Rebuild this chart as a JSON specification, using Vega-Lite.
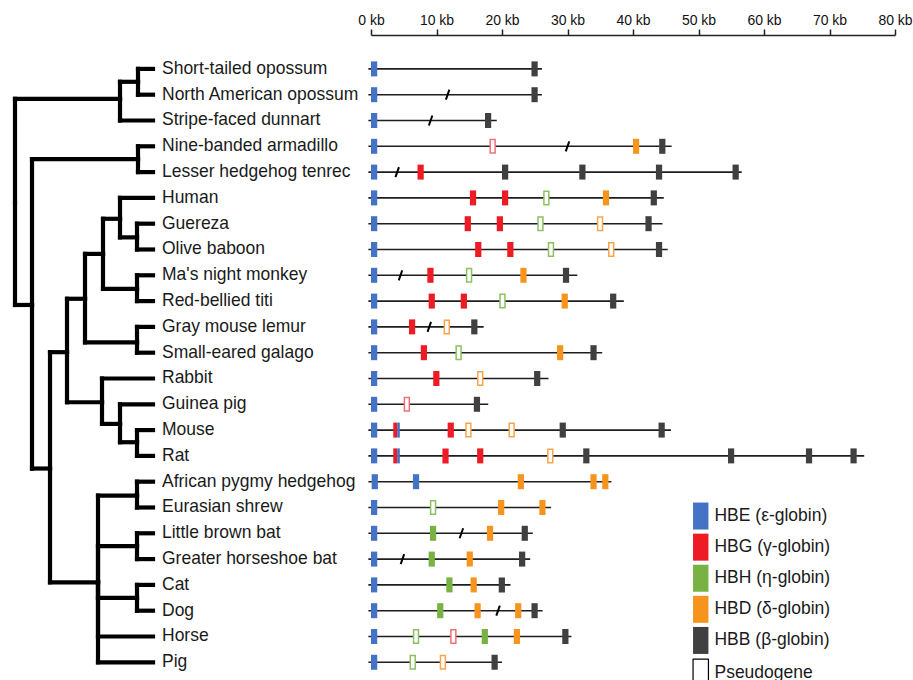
{
  "$schema": "https://vega.github.io/schema/vega-lite/v6.json",
  "autosize": {"type": "pad"},
  "padding": {"left": 0, "top": 14, "right": 0, "bottom": 0},
  "background": "white",
  "config": {"view": {"stroke": null}, "font": "Liberation Sans"},
  "spacing": 0,
  "bounds": "flush",
  "datasets": {
    "edges": [
      {"node": "Marsupialia", "depth": 120, "row": 1.16, "pdepth": 15, "prow": 5.2},
      {"node": "Didelphidae", "depth": 138, "row": 0.5, "pdepth": 120, "prow": 1.16},
      {"node": "Short-tailed opossum", "depth": 153, "row": 0, "pdepth": 138, "prow": 0.5},
      {"node": "North American opossum", "depth": 153, "row": 1, "pdepth": 138, "prow": 0.5},
      {"node": "Stripe-faced dunnart", "depth": 153, "row": 2, "pdepth": 120, "prow": 1.16},
      {"node": "Placentalia", "depth": 32, "row": 9.15, "pdepth": 15, "prow": 5.2},
      {"node": "Atlantogenata", "depth": 138, "row": 3.5, "pdepth": 32, "prow": 9.15},
      {"node": "Nine-banded armadillo", "depth": 153, "row": 3, "pdepth": 138, "prow": 3.5},
      {"node": "Lesser hedgehog tenrec", "depth": 153, "row": 4, "pdepth": 138, "prow": 3.5},
      {"node": "Boreoeutheria", "depth": 50, "row": 15.49, "pdepth": 32, "prow": 9.15},
      {"node": "Euarchontoglires", "depth": 67, "row": 10.98, "pdepth": 50, "prow": 15.49},
      {"node": "Primates", "depth": 85, "row": 8.91, "pdepth": 67, "prow": 10.98},
      {"node": "Anthropoidea", "depth": 103, "row": 7.17, "pdepth": 85, "prow": 8.91},
      {"node": "Catarrhini", "depth": 120, "row": 5.81, "pdepth": 103, "prow": 7.17},
      {"node": "Human", "depth": 153, "row": 5, "pdepth": 120, "prow": 5.81},
      {"node": "Cercopithecidae", "depth": 137, "row": 6.53, "pdepth": 120, "prow": 5.81},
      {"node": "Guereza", "depth": 153, "row": 6, "pdepth": 137, "prow": 6.53},
      {"node": "Olive baboon", "depth": 153, "row": 7, "pdepth": 137, "prow": 6.53},
      {"node": "Platyrrhini", "depth": 137, "row": 8.53, "pdepth": 103, "prow": 7.17},
      {"node": "Ma's night monkey", "depth": 153, "row": 8, "pdepth": 137, "prow": 8.53},
      {"node": "Red-bellied titi", "depth": 153, "row": 9, "pdepth": 137, "prow": 8.53},
      {"node": "Strepsirrhini", "depth": 137, "row": 10.6, "pdepth": 85, "prow": 8.91},
      {"node": "Gray mouse lemur", "depth": 153, "row": 10, "pdepth": 137, "prow": 10.6},
      {"node": "Small-eared galago", "depth": 153, "row": 11, "pdepth": 137, "prow": 10.6},
      {"node": "Glires", "depth": 102, "row": 12.92, "pdepth": 67, "prow": 10.98},
      {"node": "Rabbit", "depth": 153, "row": 12, "pdepth": 102, "prow": 12.92},
      {"node": "Rodentia", "depth": 120, "row": 13.76, "pdepth": 102, "prow": 12.92},
      {"node": "Guinea pig", "depth": 153, "row": 13, "pdepth": 120, "prow": 13.76},
      {"node": "Muridae", "depth": 137, "row": 14.47, "pdepth": 120, "prow": 13.76},
      {"node": "Mouse", "depth": 153, "row": 14, "pdepth": 137, "prow": 14.47},
      {"node": "Rat", "depth": 153, "row": 15, "pdepth": 137, "prow": 14.47},
      {"node": "Laurasiatheria", "depth": 98, "row": 19.9, "pdepth": 50, "prow": 15.49},
      {"node": "Eulipotyphla", "depth": 137, "row": 16.54, "pdepth": 98, "prow": 19.9},
      {"node": "African pygmy hedgehog", "depth": 153, "row": 16, "pdepth": 137, "prow": 16.54},
      {"node": "Eurasian shrew", "depth": 153, "row": 17, "pdepth": 137, "prow": 16.54},
      {"node": "Chiroptera", "depth": 137, "row": 18.5, "pdepth": 98, "prow": 19.9},
      {"node": "Little brown bat", "depth": 153, "row": 18, "pdepth": 137, "prow": 18.5},
      {"node": "Greater horseshoe bat", "depth": 153, "row": 19, "pdepth": 137, "prow": 18.5},
      {"node": "Carnivora", "depth": 137, "row": 20.5, "pdepth": 98, "prow": 19.9},
      {"node": "Cat", "depth": 153, "row": 20, "pdepth": 137, "prow": 20.5},
      {"node": "Dog", "depth": 153, "row": 21, "pdepth": 137, "prow": 20.5},
      {"node": "Horse", "depth": 153, "row": 22, "pdepth": 98, "prow": 19.9},
      {"node": "Pig", "depth": 153, "row": 23, "pdepth": 98, "prow": 19.9}
    ],
    "lines": [
      {"species": "Short-tailed opossum", "start": -0.4, "end": 26.1},
      {"species": "North American opossum", "start": -0.4, "end": 26.1},
      {"species": "Stripe-faced dunnart", "start": -0.4, "end": 19.2},
      {"species": "Nine-banded armadillo", "start": -0.4, "end": 45.9},
      {"species": "Lesser hedgehog tenrec", "start": -0.4, "end": 56.6},
      {"species": "Human", "start": -0.4, "end": 44.7},
      {"species": "Guereza", "start": -0.4, "end": 44.5},
      {"species": "Olive baboon", "start": -0.4, "end": 45.3},
      {"species": "Ma's night monkey", "start": -0.4, "end": 31.5},
      {"species": "Red-bellied titi", "start": -0.4, "end": 38.6},
      {"species": "Gray mouse lemur", "start": -0.4, "end": 17.2},
      {"species": "Small-eared galago", "start": -0.4, "end": 35.3},
      {"species": "Rabbit", "start": -0.4, "end": 27.1},
      {"species": "Guinea pig", "start": -0.4, "end": 17.9},
      {"species": "Mouse", "start": -0.4, "end": 45.8},
      {"species": "Rat", "start": -0.4, "end": 75.3},
      {"species": "African pygmy hedgehog", "start": -0.4, "end": 36.7},
      {"species": "Eurasian shrew", "start": -0.4, "end": 27.5},
      {"species": "Little brown bat", "start": -0.4, "end": 24.7},
      {"species": "Greater horseshoe bat", "start": -0.4, "end": 24.3},
      {"species": "Cat", "start": -0.4, "end": 21.3},
      {"species": "Dog", "start": -0.4, "end": 26.2},
      {"species": "Horse", "start": -0.4, "end": 30.6},
      {"species": "Pig", "start": -0.4, "end": 20.0}
    ],
    "gaps": [
      {"species": "North American opossum", "kb": 11.7},
      {"species": "Stripe-faced dunnart", "kb": 9.1},
      {"species": "Nine-banded armadillo", "kb": 30.0},
      {"species": "Lesser hedgehog tenrec", "kb": 4.0},
      {"species": "Ma's night monkey", "kb": 4.5},
      {"species": "Gray mouse lemur", "kb": 8.9},
      {"species": "Little brown bat", "kb": 13.8},
      {"species": "Greater horseshoe bat", "kb": 4.8},
      {"species": "Dog", "kb": 19.4}
    ],
    "genes": [
      {"species": "Short-tailed opossum", "gene": "HBE (ε-globin)", "start": 0, "end": 0.95, "pseudo": false},
      {"species": "Short-tailed opossum", "gene": "HBB (β-globin)", "start": 24.5, "end": 25.45, "pseudo": false},
      {"species": "North American opossum", "gene": "HBE (ε-globin)", "start": 0, "end": 0.95, "pseudo": false},
      {"species": "North American opossum", "gene": "HBB (β-globin)", "start": 24.5, "end": 25.45, "pseudo": false},
      {"species": "Stripe-faced dunnart", "gene": "HBE (ε-globin)", "start": 0, "end": 0.95, "pseudo": false},
      {"species": "Stripe-faced dunnart", "gene": "HBB (β-globin)", "start": 17.4, "end": 18.35, "pseudo": false},
      {"species": "Nine-banded armadillo", "gene": "HBE (ε-globin)", "start": 0, "end": 0.95, "pseudo": false},
      {"species": "Nine-banded armadillo", "gene": "HBG (γ-globin)", "start": 18.2, "end": 18.95, "pseudo": true},
      {"species": "Nine-banded armadillo", "gene": "HBD (δ-globin)", "start": 40.0, "end": 40.95, "pseudo": false},
      {"species": "Nine-banded armadillo", "gene": "HBB (β-globin)", "start": 44.0, "end": 44.95, "pseudo": false},
      {"species": "Lesser hedgehog tenrec", "gene": "HBE (ε-globin)", "start": 0, "end": 0.95, "pseudo": false},
      {"species": "Lesser hedgehog tenrec", "gene": "HBG (γ-globin)", "start": 7.1, "end": 8.05, "pseudo": false},
      {"species": "Lesser hedgehog tenrec", "gene": "HBB (β-globin)", "start": 20.0, "end": 20.95, "pseudo": false},
      {"species": "Lesser hedgehog tenrec", "gene": "HBB (β-globin)", "start": 31.8, "end": 32.75, "pseudo": false},
      {"species": "Lesser hedgehog tenrec", "gene": "HBB (β-globin)", "start": 43.5, "end": 44.45, "pseudo": false},
      {"species": "Lesser hedgehog tenrec", "gene": "HBB (β-globin)", "start": 55.2, "end": 56.15, "pseudo": false},
      {"species": "Human", "gene": "HBE (ε-globin)", "start": 0, "end": 0.95, "pseudo": false},
      {"species": "Human", "gene": "HBG (γ-globin)", "start": 15.1, "end": 16.05, "pseudo": false},
      {"species": "Human", "gene": "HBG (γ-globin)", "start": 20.0, "end": 20.95, "pseudo": false},
      {"species": "Human", "gene": "HBH (η-globin)", "start": 26.4, "end": 27.15, "pseudo": true},
      {"species": "Human", "gene": "HBD (δ-globin)", "start": 35.4, "end": 36.35, "pseudo": false},
      {"species": "Human", "gene": "HBB (β-globin)", "start": 42.7, "end": 43.65, "pseudo": false},
      {"species": "Guereza", "gene": "HBE (ε-globin)", "start": 0, "end": 0.95, "pseudo": false},
      {"species": "Guereza", "gene": "HBG (γ-globin)", "start": 14.3, "end": 15.25, "pseudo": false},
      {"species": "Guereza", "gene": "HBG (γ-globin)", "start": 19.2, "end": 20.15, "pseudo": false},
      {"species": "Guereza", "gene": "HBH (η-globin)", "start": 25.5, "end": 26.25, "pseudo": true},
      {"species": "Guereza", "gene": "HBD (δ-globin)", "start": 34.6, "end": 35.35, "pseudo": true},
      {"species": "Guereza", "gene": "HBB (β-globin)", "start": 41.9, "end": 42.85, "pseudo": false},
      {"species": "Olive baboon", "gene": "HBE (ε-globin)", "start": 0, "end": 0.95, "pseudo": false},
      {"species": "Olive baboon", "gene": "HBG (γ-globin)", "start": 15.9, "end": 16.85, "pseudo": false},
      {"species": "Olive baboon", "gene": "HBG (γ-globin)", "start": 20.8, "end": 21.75, "pseudo": false},
      {"species": "Olive baboon", "gene": "HBH (η-globin)", "start": 27.1, "end": 27.85, "pseudo": true},
      {"species": "Olive baboon", "gene": "HBD (δ-globin)", "start": 36.3, "end": 37.05, "pseudo": true},
      {"species": "Olive baboon", "gene": "HBB (β-globin)", "start": 43.5, "end": 44.45, "pseudo": false},
      {"species": "Ma's night monkey", "gene": "HBE (ε-globin)", "start": 0, "end": 0.95, "pseudo": false},
      {"species": "Ma's night monkey", "gene": "HBG (γ-globin)", "start": 8.6, "end": 9.55, "pseudo": false},
      {"species": "Ma's night monkey", "gene": "HBH (η-globin)", "start": 14.6, "end": 15.35, "pseudo": true},
      {"species": "Ma's night monkey", "gene": "HBD (δ-globin)", "start": 22.8, "end": 23.75, "pseudo": false},
      {"species": "Ma's night monkey", "gene": "HBB (β-globin)", "start": 29.3, "end": 30.25, "pseudo": false},
      {"species": "Red-bellied titi", "gene": "HBE (ε-globin)", "start": 0, "end": 0.95, "pseudo": false},
      {"species": "Red-bellied titi", "gene": "HBG (γ-globin)", "start": 8.8, "end": 9.75, "pseudo": false},
      {"species": "Red-bellied titi", "gene": "HBG (γ-globin)", "start": 13.7, "end": 14.65, "pseudo": false},
      {"species": "Red-bellied titi", "gene": "HBH (η-globin)", "start": 19.7, "end": 20.45, "pseudo": true},
      {"species": "Red-bellied titi", "gene": "HBD (δ-globin)", "start": 29.1, "end": 30.05, "pseudo": false},
      {"species": "Red-bellied titi", "gene": "HBB (β-globin)", "start": 36.5, "end": 37.45, "pseudo": false},
      {"species": "Gray mouse lemur", "gene": "HBE (ε-globin)", "start": 0, "end": 0.95, "pseudo": false},
      {"species": "Gray mouse lemur", "gene": "HBG (γ-globin)", "start": 5.8, "end": 6.75, "pseudo": false},
      {"species": "Gray mouse lemur", "gene": "HBD (δ-globin)", "start": 11.2, "end": 11.95, "pseudo": true},
      {"species": "Gray mouse lemur", "gene": "HBB (β-globin)", "start": 15.3, "end": 16.25, "pseudo": false},
      {"species": "Small-eared galago", "gene": "HBE (ε-globin)", "start": 0, "end": 0.95, "pseudo": false},
      {"species": "Small-eared galago", "gene": "HBG (γ-globin)", "start": 7.6, "end": 8.55, "pseudo": false},
      {"species": "Small-eared galago", "gene": "HBH (η-globin)", "start": 13.0, "end": 13.75, "pseudo": true},
      {"species": "Small-eared galago", "gene": "HBD (δ-globin)", "start": 28.4, "end": 29.35, "pseudo": false},
      {"species": "Small-eared galago", "gene": "HBB (β-globin)", "start": 33.5, "end": 34.45, "pseudo": false},
      {"species": "Rabbit", "gene": "HBE (ε-globin)", "start": 0, "end": 0.95, "pseudo": false},
      {"species": "Rabbit", "gene": "HBG (γ-globin)", "start": 9.5, "end": 10.45, "pseudo": false},
      {"species": "Rabbit", "gene": "HBD (δ-globin)", "start": 16.3, "end": 17.05, "pseudo": true},
      {"species": "Rabbit", "gene": "HBB (β-globin)", "start": 24.9, "end": 25.85, "pseudo": false},
      {"species": "Guinea pig", "gene": "HBE (ε-globin)", "start": 0, "end": 0.95, "pseudo": false},
      {"species": "Guinea pig", "gene": "HBG (γ-globin)", "start": 5.1, "end": 5.85, "pseudo": true},
      {"species": "Guinea pig", "gene": "HBB (β-globin)", "start": 15.7, "end": 16.65, "pseudo": false},
      {"species": "Mouse", "gene": "HBE (ε-globin)", "start": 0, "end": 0.95, "pseudo": false},
      {"species": "Mouse", "gene": "HBG (γ-globin)", "start": 3.4, "end": 4.0, "pseudo": false},
      {"species": "Mouse", "gene": "HBE (ε-globin)", "start": 4.0, "end": 4.4, "pseudo": false},
      {"species": "Mouse", "gene": "HBG (γ-globin)", "start": 11.7, "end": 12.65, "pseudo": false},
      {"species": "Mouse", "gene": "HBD (δ-globin)", "start": 14.5, "end": 15.25, "pseudo": true},
      {"species": "Mouse", "gene": "HBD (δ-globin)", "start": 21.1, "end": 21.85, "pseudo": true},
      {"species": "Mouse", "gene": "HBB (β-globin)", "start": 28.8, "end": 29.75, "pseudo": false},
      {"species": "Mouse", "gene": "HBB (β-globin)", "start": 43.9, "end": 44.85, "pseudo": false},
      {"species": "Rat", "gene": "HBE (ε-globin)", "start": 0, "end": 0.95, "pseudo": false},
      {"species": "Rat", "gene": "HBG (γ-globin)", "start": 3.4, "end": 4.0, "pseudo": false},
      {"species": "Rat", "gene": "HBE (ε-globin)", "start": 4.0, "end": 4.4, "pseudo": false},
      {"species": "Rat", "gene": "HBG (γ-globin)", "start": 10.9, "end": 11.85, "pseudo": false},
      {"species": "Rat", "gene": "HBG (γ-globin)", "start": 16.2, "end": 17.15, "pseudo": false},
      {"species": "Rat", "gene": "HBD (δ-globin)", "start": 27.0, "end": 27.75, "pseudo": true},
      {"species": "Rat", "gene": "HBB (β-globin)", "start": 32.4, "end": 33.35, "pseudo": false},
      {"species": "Rat", "gene": "HBB (β-globin)", "start": 54.5, "end": 55.45, "pseudo": false},
      {"species": "Rat", "gene": "HBB (β-globin)", "start": 66.4, "end": 67.35, "pseudo": false},
      {"species": "Rat", "gene": "HBB (β-globin)", "start": 73.2, "end": 74.15, "pseudo": false},
      {"species": "African pygmy hedgehog", "gene": "HBE (ε-globin)", "start": 0.1, "end": 1.05, "pseudo": false},
      {"species": "African pygmy hedgehog", "gene": "HBE (ε-globin)", "start": 6.4, "end": 7.35, "pseudo": false},
      {"species": "African pygmy hedgehog", "gene": "HBD (δ-globin)", "start": 22.4, "end": 23.35, "pseudo": false},
      {"species": "African pygmy hedgehog", "gene": "HBD (δ-globin)", "start": 33.5, "end": 34.45, "pseudo": false},
      {"species": "African pygmy hedgehog", "gene": "HBD (δ-globin)", "start": 35.3, "end": 36.25, "pseudo": false},
      {"species": "Eurasian shrew", "gene": "HBE (ε-globin)", "start": 0, "end": 0.95, "pseudo": false},
      {"species": "Eurasian shrew", "gene": "HBH (η-globin)", "start": 9.1, "end": 9.85, "pseudo": true},
      {"species": "Eurasian shrew", "gene": "HBD (δ-globin)", "start": 19.4, "end": 20.35, "pseudo": false},
      {"species": "Eurasian shrew", "gene": "HBD (δ-globin)", "start": 25.7, "end": 26.65, "pseudo": false},
      {"species": "Little brown bat", "gene": "HBE (ε-globin)", "start": 0, "end": 0.95, "pseudo": false},
      {"species": "Little brown bat", "gene": "HBH (η-globin)", "start": 9.0, "end": 9.95, "pseudo": false},
      {"species": "Little brown bat", "gene": "HBD (δ-globin)", "start": 17.7, "end": 18.65, "pseudo": false},
      {"species": "Little brown bat", "gene": "HBB (β-globin)", "start": 23.0, "end": 23.95, "pseudo": false},
      {"species": "Greater horseshoe bat", "gene": "HBE (ε-globin)", "start": 0, "end": 0.95, "pseudo": false},
      {"species": "Greater horseshoe bat", "gene": "HBH (η-globin)", "start": 8.8, "end": 9.75, "pseudo": false},
      {"species": "Greater horseshoe bat", "gene": "HBD (δ-globin)", "start": 14.6, "end": 15.55, "pseudo": false},
      {"species": "Greater horseshoe bat", "gene": "HBB (β-globin)", "start": 22.6, "end": 23.55, "pseudo": false},
      {"species": "Cat", "gene": "HBE (ε-globin)", "start": 0, "end": 0.95, "pseudo": false},
      {"species": "Cat", "gene": "HBH (η-globin)", "start": 11.5, "end": 12.45, "pseudo": false},
      {"species": "Cat", "gene": "HBD (δ-globin)", "start": 15.2, "end": 16.15, "pseudo": false},
      {"species": "Cat", "gene": "HBB (β-globin)", "start": 19.5, "end": 20.45, "pseudo": false},
      {"species": "Dog", "gene": "HBE (ε-globin)", "start": 0, "end": 0.95, "pseudo": false},
      {"species": "Dog", "gene": "HBH (η-globin)", "start": 10.1, "end": 11.05, "pseudo": false},
      {"species": "Dog", "gene": "HBD (δ-globin)", "start": 15.8, "end": 16.75, "pseudo": false},
      {"species": "Dog", "gene": "HBD (δ-globin)", "start": 22.0, "end": 22.95, "pseudo": false},
      {"species": "Dog", "gene": "HBB (β-globin)", "start": 24.5, "end": 25.45, "pseudo": false},
      {"species": "Horse", "gene": "HBE (ε-globin)", "start": 0, "end": 0.95, "pseudo": false},
      {"species": "Horse", "gene": "HBH (η-globin)", "start": 6.5, "end": 7.25, "pseudo": true},
      {"species": "Horse", "gene": "HBG (γ-globin)", "start": 12.2, "end": 12.95, "pseudo": true},
      {"species": "Horse", "gene": "HBH (η-globin)", "start": 16.9, "end": 17.85, "pseudo": false},
      {"species": "Horse", "gene": "HBD (δ-globin)", "start": 21.8, "end": 22.75, "pseudo": false},
      {"species": "Horse", "gene": "HBB (β-globin)", "start": 29.2, "end": 30.15, "pseudo": false},
      {"species": "Pig", "gene": "HBE (ε-globin)", "start": 0, "end": 0.95, "pseudo": false},
      {"species": "Pig", "gene": "HBH (η-globin)", "start": 6.0, "end": 6.75, "pseudo": true},
      {"species": "Pig", "gene": "HBD (δ-globin)", "start": 10.6, "end": 11.35, "pseudo": true},
      {"species": "Pig", "gene": "HBB (β-globin)", "start": 18.4, "end": 19.35, "pseudo": false}
    ]
  },
  "hconcat": [
    {
      "width": 371,
      "height": 619.2,
      "data": {"name": "edges"},
      "layer": [
        {
          "mark": {"type": "rule", "strokeWidth": 4.2, "color": "#000000", "strokeCap": "square"},
          "encoding": {
            "x": {"field": "pdepth", "type": "quantitative", "scale": {"domain": [0, 371], "nice": false, "zero": false}, "axis": null},
            "x2": {"field": "depth"},
            "y": {"field": "row", "type": "quantitative", "scale": {"domain": [-0.5, 23.5], "nice": false, "zero": false, "reverse": true}, "axis": null}
          }
        },
        {
          "mark": {"type": "rule", "strokeWidth": 4.2, "color": "#000000", "strokeCap": "square"},
          "encoding": {
            "x": {"field": "pdepth", "type": "quantitative"},
            "y": {"field": "prow", "type": "quantitative"},
            "y2": {"field": "row"}
          }
        },
        {
          "transform": [{"filter": "datum.depth >= 150"}],
          "mark": {"type": "text", "align": "left", "baseline": "middle", "dx": 9, "fontSize": 17.5, "font": "Liberation Sans", "color": "#1a1a1a"},
          "encoding": {
            "x": {"field": "depth", "type": "quantitative"},
            "y": {"field": "row", "type": "quantitative"},
            "text": {"field": "node", "type": "nominal"}
          }
        }
      ]
    },
    {
      "width": 524,
      "height": 619.2,
      "layer": [
        {
          "data": {"name": "lines"},
          "mark": {"type": "rule", "strokeWidth": 1.6, "color": "#1e1e1e"},
          "encoding": {
            "x": {"field": "start", "type": "quantitative", "scale": {"domain": [0, 80], "nice": false, "zero": false},
              "axis": {"orient": "top", "values": [0, 10, 20, 30, 40, 50, 60, 70, 80], "labelExpr": "datum.value + ' kb'", "title": null, "grid": false,
                "offset": 21, "tickSize": 6, "tickWidth": 1.5, "tickColor": "#222222", "domainColor": "#222222", "domainWidth": 1.5,
                "labelFontSize": 14, "labelFont": "Liberation Sans", "labelColor": "#111111", "labelPadding": 1, "labelFlush": false, "labelOverlap": false, "labelBound": false}},
            "x2": {"field": "end"},
            "y": {"field": "species", "type": "nominal", "scale": {"domain": ["Short-tailed opossum", "North American opossum", "Stripe-faced dunnart", "Nine-banded armadillo", "Lesser hedgehog tenrec", "Human", "Guereza", "Olive baboon", "Ma's night monkey", "Red-bellied titi", "Gray mouse lemur", "Small-eared galago", "Rabbit", "Guinea pig", "Mouse", "Rat", "African pygmy hedgehog", "Eurasian shrew", "Little brown bat", "Greater horseshoe bat", "Cat", "Dog", "Horse", "Pig"], "paddingInner": 0, "paddingOuter": 0}, "axis": null}
          }
        },
        {
          "data": {"name": "gaps"},
          "mark": {"type": "point", "shape": "M-0.35,1L0.35,-1", "size": 100, "filled": false, "stroke": "#000000", "strokeWidth": 2, "opacity": 1},
          "encoding": {
            "x": {"field": "kb", "type": "quantitative"},
            "y": {"field": "species", "type": "nominal"}
          }
        },
        {
          "data": {"name": "genes"},
          "transform": [{"filter": "!datum.pseudo"}],
          "mark": {"type": "bar", "size": 15},
          "encoding": {
            "x": {"field": "start", "type": "quantitative"},
            "x2": {"field": "end"},
            "y": {"field": "species", "type": "nominal"},
            "color": {"field": "gene", "type": "nominal",
              "scale": {"domain": ["HBE (ε-globin)", "HBG (γ-globin)", "HBH (η-globin)", "HBD (δ-globin)", "HBB (β-globin)", "Pseudogene"], "range": ["#4472c4", "#ed1c24", "#77b243", "#f7941d", "#404040", "#ffffff"]},
              "legend": {"orient": "none", "legendX": 692, "legendY": 451.3, "title": null, "padding": 0, "offset": 0,
                "symbolType": "M-0.57,-1H0.57V1H-0.57Z", "symbolSize": 729, "rowPadding": 3.1, "labelOffset": 5,
                "labelFontSize": 17.5, "labelFont": "Liberation Sans", "labelColor": "#1a1a1a", "labelLimit": 300,
                "encode": {"symbols": {"update": {
                  "stroke": {"signal": "datum.value === 'Pseudogene' ? '#000000' : 'transparent'"},
                  "strokeWidth": {"signal": "datum.value === 'Pseudogene' ? 1.2 : 0"},
                  "strokeJoin": {"value": "bevel"}}}}}}
          }
        },
        {
          "data": {"name": "genes"},
          "transform": [{"filter": "datum.pseudo"}],
          "mark": {"type": "bar", "size": 13.5, "fill": "#ffffff", "strokeWidth": 1.5},
          "encoding": {
            "x": {"field": "start", "type": "quantitative"},
            "x2": {"field": "end"},
            "y": {"field": "species", "type": "nominal"},
            "stroke": {"field": "gene", "type": "nominal",
              "scale": {"domain": ["HBE (ε-globin)", "HBG (γ-globin)", "HBH (η-globin)", "HBD (δ-globin)", "HBB (β-globin)"], "range": ["#4472c4", "#f07076", "#8cc063", "#f9a64a", "#404040"]},
              "legend": null}
          }
        }
      ]
    }
  ]
}
